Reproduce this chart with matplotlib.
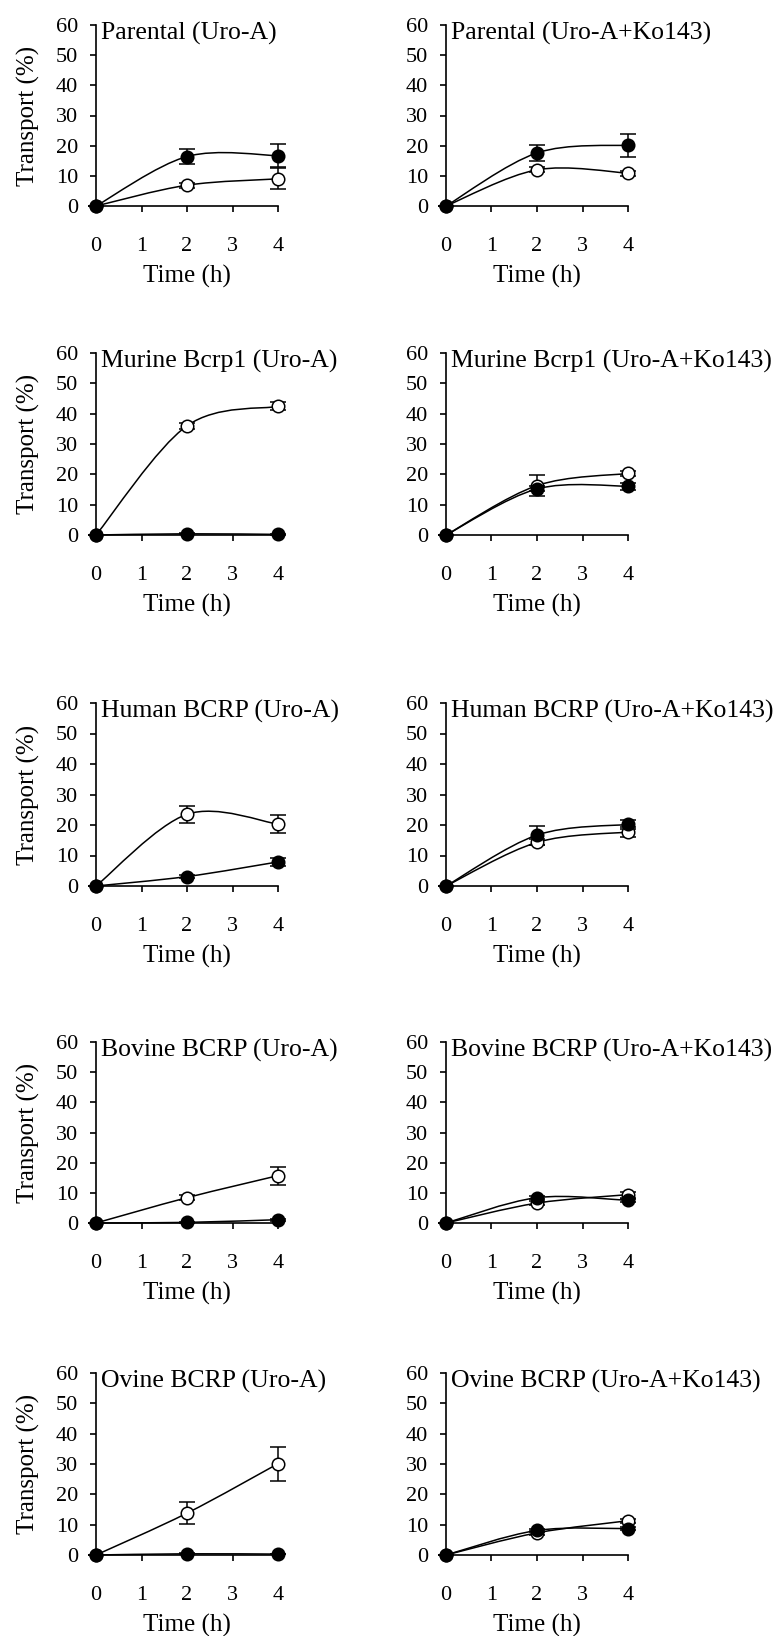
import matplotlib
matplotlib.use('Agg')
import matplotlib.pyplot as plt
from matplotlib.path import Path
from matplotlib.patches import PathPatch

plt.rcParams['font.family'] = ['Liberation Serif', 'DejaVu Serif']
plt.rcParams['font.size'] = 16

times = [0, 2, 4]

titles = ['Parental (Uro-A)', 'Parental (Uro-A+Ko143)',
          'Murine Bcrp1 (Uro-A)', 'Murine Bcrp1 (Uro-A+Ko143)',
          'Human BCRP (Uro-A)', 'Human BCRP (Uro-A+Ko143)',
          'Bovine BCRP (Uro-A)', 'Bovine BCRP (Uro-A+Ko143)',
          'Ovine BCRP (Uro-A)', 'Ovine BCRP (Uro-A+Ko143)']

# open circles
open_mean = [[0, 6.9, 9.0], [0, 12.0, 10.9],
             [0, 36.0, 42.4], [0, 16.3, 20.3],
             [0, 23.5, 20.3], [0, 14.3, 17.7],
             [0, 8.4, 15.7], [0, 6.6, 9.4],
             [0, 13.8, 30.1], [0, 7.3, 11.3]]
open_sd = [[0, 0.8, 3.5], [0, 0.8, 0.8],
           [0, 1.0, 1.3], [0, 3.5, 0.8],
           [0, 2.8, 3.0], [0, 1.0, 1.6],
           [0, 0.9, 3.0], [0, 0.6, 1.0],
           [0, 3.7, 5.6], [0, 0.6, 0.6]]

# filled circles
filled_mean = [[0, 16.4, 16.7], [0, 17.6, 20.2],
               [0, 0.4, 0.2], [0, 15.2, 16.1],
               [0, 3.1, 7.9], [0, 16.7, 20.2],
               [0, 0.2, 1.1], [0, 8.4, 7.5],
               [0, 0.4, 0.3], [0, 8.1, 8.7]]
filled_sd = [[0, 2.6, 3.9], [0, 2.7, 3.8],
             [0, 0.1, 0.1], [0, 0.8, 1.2],
             [0, 0.6, 1.2], [0, 3.1, 1.4],
             [0, 0.1, 0.3], [0, 0.6, 0.6],
             [0, 0.1, 0.1], [0, 0.6, 0.6]]

W, H = 776, 1636
col_left = [96, 446]
ax_w = 182
row_top = [25, 353, 703, 1042, 1373]
row_bot = [206, 535, 886, 1223, 1555]


def smooth_path(xs, ys, t=1 / 6):
    # excel-like smoothed line: bezier through the points
    pts = list(zip(xs, ys))
    n = len(pts)
    verts = [pts[0]]
    codes = [Path.MOVETO]
    for i in range(n - 1):
        p0 = pts[max(i - 1, 0)]
        p1 = pts[i]
        p2 = pts[i + 1]
        p3 = pts[min(i + 2, n - 1)]
        c1 = (p1[0] + (p2[0] - p0[0]) * t, p1[1] + (p2[1] - p0[1]) * t)
        c2 = (p2[0] - (p3[0] - p1[0]) * t, p2[1] - (p3[1] - p1[1]) * t)
        verts += [c1, c2, p2]
        codes += [Path.CURVE4] * 3
    return Path(verts, codes)


fig = plt.figure(figsize=(W / 100, H / 100), dpi=100)

for k, title in enumerate(titles):
    r, c = divmod(k, 2)
    ax = fig.add_axes([col_left[c] / W, 1 - row_bot[r] / H,
                       ax_w / W, (row_bot[r] - row_top[r]) / H])
    for mean, sd, face in [(open_mean[k], open_sd[k], 'white'),
                           (filled_mean[k], filled_sd[k], 'black')]:
        ax.add_patch(PathPatch(smooth_path(times, mean), fill=False,
                               edgecolor='black', lw=1.1, clip_on=False, zorder=2))
        ax.errorbar(times, mean, yerr=sd, fmt='none', ecolor='black',
                    elinewidth=1.1, capsize=6, capthick=1.1, clip_on=False, zorder=3)
        ax.plot(times, mean, 'o', ms=9, mfc=face, mec='black', mew=1.1,
                clip_on=False, zorder=4)
    ax.set_xlim(0, 4)
    ax.set_ylim(0, 60)
    ax.set_xticks([0, 1, 2, 3, 4])
    ax.set_yticks(range(0, 61, 10))
    for s in ['top', 'right']:
        ax.spines[s].set_visible(False)
    for s in ['left', 'bottom']:
        ax.spines[s].set_linewidth(1.2)
    ax.tick_params(axis='x', direction='out', length=4.5, width=1.2, pad=18, labelsize=16)
    ax.tick_params(axis='y', direction='out', length=4.5, width=1.2, pad=8.5, labelsize=16)
    ax.set_xlabel('Time (h)', fontsize=18, labelpad=6.5)
    if c == 0:
        ax.set_ylabel('Transport (%)', fontsize=18, labelpad=11)
    ax.text(0.027, 1.015, title, transform=ax.transAxes, ha='left', va='top',
            fontsize=18.5)

fig.savefig('out.png', dpi=100)
